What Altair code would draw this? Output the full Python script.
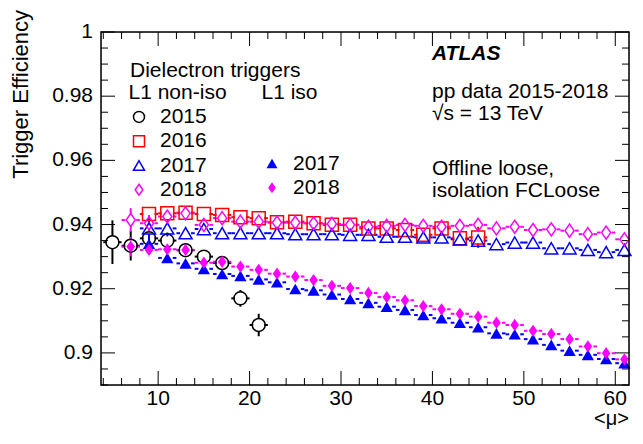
import altair as alt
import pandas as pd

FONT = "Liberation Sans"
W, H = 528, 353

YEARS = ["2015", "2016", "2017", "2018"]
COLORS = ["#000000", "#ff0000", "#0000ff", "#ff00ff"]
DIAMOND = "M0,-1L0.7,0L0,1L-0.7,0Z"

# ---- data ----
mu_2015 = [5, 7, 9, 11, 13, 15, 17, 19, 21]
eff_2015 = [0.9345, 0.9334, 0.9357, 0.9350, 0.9320, 0.9300, 0.9280, 0.9170, 0.9087]
err_2015 = [0.0068, 0.0046, 0.0030, 0.0025, 0.0020, 0.0020, 0.0020, 0.0026, 0.0035]

mu_2016 = [9, 11, 13, 15, 17, 19, 21, 23, 25, 27, 29, 31, 33, 35, 37, 39, 41, 43, 45]
eff_2016 = [0.9433, 0.9435, 0.9437, 0.9433, 0.9430, 0.9423, 0.9420, 0.9407, 0.9409, 0.9404,
            0.9399, 0.9399, 0.9388, 0.9388, 0.9383, 0.9368, 0.9388, 0.9357, 0.9360]
err_2016 = [0.0010, 0.0008, 0.0008, 0.0008, 0.0008, 0.0008, 0.0008, 0.0008, 0.0008, 0.0008,
            0.0008, 0.0008, 0.0008, 0.0008, 0.0008, 0.0010, 0.0012, 0.0016, 0.0033]

mu_2017 = [9, 11, 13, 15, 17, 19, 21, 23, 25, 27, 29, 31, 33, 35, 37, 39, 41, 43, 45,
           47, 49, 51, 53, 55, 57, 59, 61]
eff_2017 = [0.9388, 0.9388, 0.9373, 0.9386, 0.9373, 0.9373, 0.9373, 0.9373, 0.9370, 0.9370,
            0.9370, 0.9368, 0.9368, 0.9362, 0.9362, 0.9360, 0.9360, 0.9354, 0.9350, 0.9339,
            0.9344, 0.9344, 0.9326, 0.9326, 0.9321, 0.9314, 0.9321]
err_2017 = [0.0040, 0.0025] + [0.0006] * 25

mu_2018 = [7, 9, 11, 13, 15, 17, 19, 21, 23, 25, 27, 29, 31, 33, 35, 37, 39, 41, 43, 45,
           47, 49, 51, 53, 55, 57, 59, 61]
eff_2018 = [0.9414, 0.9404, 0.9425, 0.9435, 0.9399, 0.9420, 0.9409, 0.9409, 0.9406, 0.9406,
            0.9404, 0.9402, 0.9399, 0.9393, 0.9396, 0.9399, 0.9396, 0.9393, 0.9396, 0.9399,
            0.9388, 0.9393, 0.9383, 0.9385, 0.9381, 0.9370, 0.9375, 0.9354]
err_2018 = [0.0037, 0.0025, 0.0015] + [0.0006] * 25

eff_2017_iso = [0.9340, 0.9296, 0.9279, 0.9262, 0.9246, 0.9240, 0.9229, 0.9220, 0.9199, 0.9195,
                0.9182, 0.9168, 0.9156, 0.9144, 0.9134, 0.9118, 0.9108, 0.9094, 0.9080, 0.9061,
                0.9058, 0.9043, 0.9025, 0.9007, 0.8994, 0.8981, 0.8968]
err_2017_iso = [0.0030, 0.0015] + [0.0006] * 25

eff_2018_iso = [0.9331, 0.9321, 0.9323, 0.9321, 0.9281, 0.9284, 0.9269, 0.9259, 0.9247, 0.9238,
                0.9227, 0.9209, 0.9202, 0.9187, 0.9174, 0.9164, 0.9146, 0.9136, 0.9122, 0.9113,
                0.9094, 0.9087, 0.9069, 0.9059, 0.9043, 0.9020, 0.8999, 0.8980]
err_2018_iso = [0.0030, 0.0020] + [0.0006] * 26

# tick values and tick labels
y_major = [0.90, 0.92, 0.94, 0.96, 0.98, 1.00]
y_labels = ["0.9", "0.92", "0.94", "0.96", "0.98", "1"]
y_minor = [0.89, 0.895, 0.905, 0.91, 0.915, 0.925, 0.93, 0.935, 0.945, 0.95, 0.955,
           0.965, 0.97, 0.975, 0.985, 0.99, 0.995]
x_major = [10, 20, 30, 40, 50, 60]
x_labels = ["10", "20", "30", "40", "50", "60"]
x_minor = [4, 6, 8, 12, 14, 16, 18, 22, 24, 26, 28, 32, 34, 36, 38, 42, 44, 46, 48,
           52, 54, 56, 58]

XHW = 1.0      # half bin width (mu units)
GX = 0.6       # gap left around marker (mu units)
GY = 0.0019    # gap left around marker (efficiency units)

rows = []


def add(year, iso, mu, eff, err):
    for m, e, s in zip(mu, eff, err):
        rows.append(dict(mu=m, eff=e, err=s, year=year, iso=iso))


add("2015", False, mu_2015, eff_2015, err_2015)
add("2016", False, mu_2016, eff_2016, err_2016)
add("2017", False, mu_2017, eff_2017, err_2017)
add("2018", False, mu_2018, eff_2018, err_2018)
add("2017", True, mu_2017, eff_2017_iso, err_2017_iso)
add("2018", True, mu_2018, eff_2018_iso, err_2018_iso)
df = pd.DataFrame(rows)

seg = []
for r in rows:
    m, e, s, yr = r["mu"], r["eff"], r["err"], r["year"]
    seg.append(dict(x1=m - XHW, x2=m - GX, y1=e, y2=e, year=yr))
    seg.append(dict(x1=m + GX, x2=m + XHW, y1=e, y2=e, year=yr))
    if s > GY:
        seg.append(dict(x1=m, x2=m, y1=e + GY, y2=e + s, year=yr))
        seg.append(dict(x1=m, x2=m, y1=e - s, y2=e - GY, year=yr))
seg_df = pd.DataFrame(seg)

xs = alt.Scale(domain=[3.75, 61.5], nice=False, zero=False, clamp=True)
ys = alt.Scale(domain=[0.89, 1.0], nice=False, zero=False, clamp=True)

bars = alt.Chart(seg_df).mark_rule(strokeWidth=2).encode(
    x=alt.X("x1:Q", scale=xs, axis=None), x2="x2:Q",
    y=alt.Y("y1:Q", scale=ys, axis=None), y2="y2:Q",
    color=alt.Color("year:N", scale=alt.Scale(domain=YEARS, range=COLORS), legend=None),
)


def legend(title, lx, tpad):
    return alt.Legend(title=title, orient="none", legendX=lx, legendY=50.4,
                      direction="vertical", padding=0, titlePadding=tpad,
                      titleFontSize=21, titleFont=FONT, titleFontWeight="normal",
                      titleColor="black", labelFontSize=21, labelFont=FONT,
                      labelColor="black", symbolSize=121, symbolStrokeWidth=1.5,
                      rowPadding=2.3, labelOffset=10.5)


leg_n = legend("L1 non-iso", 27.5, 3)
noniso = alt.Chart(df[~df["iso"]]).mark_point(
    filled=False, size=169, strokeWidth=1.5, opacity=1).encode(
    x=alt.X("mu:Q", scale=xs, axis=None),
    y=alt.Y("eff:Q", scale=ys, axis=None),
    color=alt.Color("year:N", scale=alt.Scale(domain=YEARS, range=COLORS), legend=leg_n),
    shape=alt.Shape("year:N", scale=alt.Scale(domain=YEARS,
                    range=["circle", "square", "triangle-up", DIAMOND]), legend=leg_n),
)

leg_i = legend("L1 iso", 160.5, 49.6)
iso = alt.Chart(df[df["iso"]]).mark_point(
    filled=True, size=150, opacity=1).encode(
    x=alt.X("mu:Q", scale=xs, axis=None),
    y=alt.Y("eff:Q", scale=ys, axis=None),
    color=alt.Color("year:N", scale=alt.Scale(domain=["2017", "2018"],
                    range=["#0000ff", "#ff00ff"]), legend=leg_i),
    shape=alt.Shape("year:N", scale=alt.Scale(domain=["2017", "2018"],
                    range=["triangle-up", DIAMOND]), legend=leg_i),
)


def yticks(vals, length):
    d = pd.DataFrame({"v": vals})
    left = alt.Chart(d).mark_rule(color="black", strokeWidth=1).encode(
        y=alt.Y("v:Q", scale=ys, axis=None), x=alt.value(0), x2=alt.value(length))
    right = alt.Chart(d).mark_rule(color="black", strokeWidth=1).encode(
        y=alt.Y("v:Q", scale=ys, axis=None), x=alt.value(W - length), x2=alt.value(W))
    return [left, right]


def xticks(vals, length):
    d = pd.DataFrame({"v": vals})
    bot = alt.Chart(d).mark_rule(color="black", strokeWidth=1).encode(
        x=alt.X("v:Q", scale=xs, axis=None), y=alt.value(H - length), y2=alt.value(H))
    top = alt.Chart(d).mark_rule(color="black", strokeWidth=1).encode(
        x=alt.X("v:Q", scale=xs, axis=None), y=alt.value(0), y2=alt.value(length))
    return [bot, top]


ylab = alt.Chart(pd.DataFrame({"v": y_major, "lab": y_labels})).mark_text(
    align="right", baseline="middle", font=FONT, fontSize=21, color="black"
).encode(y=alt.Y("v:Q", scale=ys, axis=None), x=alt.value(-8), text="lab:N")

xlab = alt.Chart(pd.DataFrame({"v": x_major, "lab": x_labels})).mark_text(
    align="center", baseline="top", font=FONT, fontSize=21, color="black"
).encode(x=alt.X("v:Q", scale=xs, axis=None), y=alt.value(H + 3), text="lab:N")


def txt(s, x, y, **kw):
    params = dict(align="left", baseline="alphabetic", font=FONT, fontSize=21, color="black")
    params.update(kw)
    return alt.Chart(pd.DataFrame({"t": [s]})).mark_text(**params).encode(
        x=alt.value(x), y=alt.value(y), text="t:N")


texts = [
    txt("ATLAS", 331, 27.5, fontStyle="italic", fontWeight="bold"),
    txt("pp data 2015-2018", 331, 66),
    txt("√s = 13 TeV", 331, 88),
    txt("Offline loose,", 331, 143),
    txt("isolation FCLoose", 331, 165),
    txt("Dielectron triggers", 29, 44.5),
    txt("Trigger Efficiency", -73, -22, angle=270, align="right", fontSize=22),
    txt("<μ>", W, H + 40, align="right", fontSize=20),
]

frame = alt.Chart(pd.DataFrame({"a": [0]})).mark_rect(
    fill=None, stroke="black", strokeWidth=1.5).encode(
    x=alt.value(0), x2=alt.value(W), y=alt.value(0), y2=alt.value(H))

layers = ([bars] + yticks(y_major, 14) + yticks(y_minor, 7) + xticks(x_major, 14)
          + xticks(x_minor, 7) + [noniso, iso, ylab, xlab] + texts + [frame])

chart = alt.layer(*layers).resolve_scale(
    color="independent", shape="independent"
).properties(
    width=W, height=H,
    autosize=alt.AutoSizeParams(type="none"),
    padding={"left": 93, "top": 24, "right": 5, "bottom": 44},
).configure_view(stroke=None).configure(background="white")

chart.save("out.html", embed_options={"renderer": "svg", "actions": False})
